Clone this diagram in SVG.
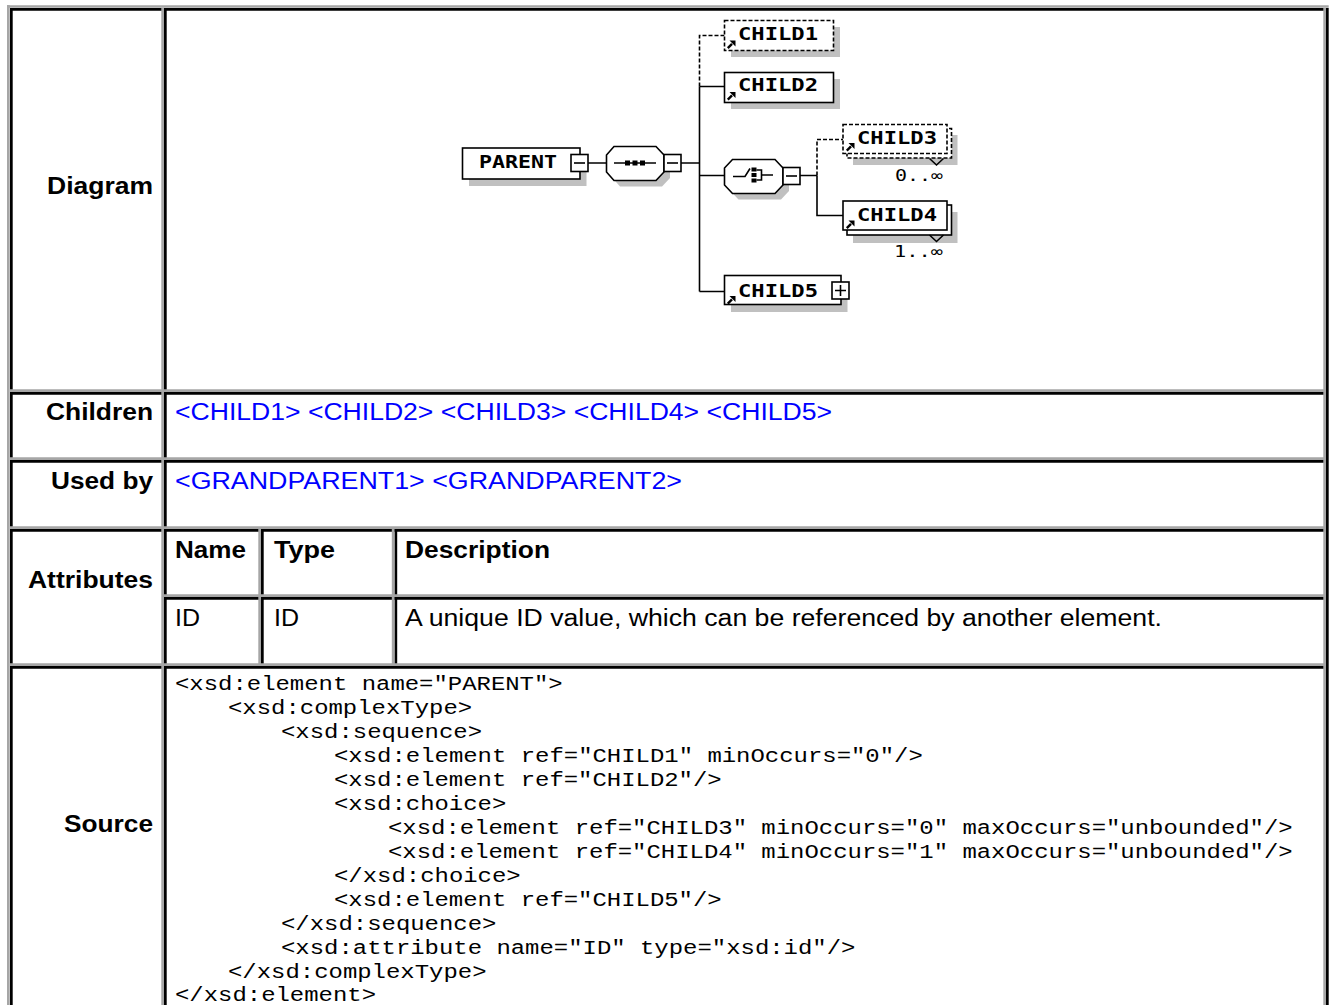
<svg xmlns="http://www.w3.org/2000/svg" width="1333" height="1005" viewBox="0 0 1333 1005">
<style>
.bk{stroke:#000;stroke-width:2.7;fill:none}
.gr{stroke:#a6a6a6;stroke-width:2.7;fill:none}
.lbl{font-family:"Liberation Sans",Arial,sans-serif;font-weight:bold;font-size:23px;fill:#000}
.txt{font-family:"Liberation Sans",Arial,sans-serif;font-size:23px;fill:#000}
.lnk{font-family:"Liberation Sans",Arial,sans-serif;font-size:23px;fill:#0000ff}
.src{font-family:"Liberation Mono","Courier New",monospace;font-size:19.5px;fill:#000}
.box{fill:#fff;stroke:#000;stroke-width:1.6}
.dbox{fill:#fff;stroke:#000;stroke-width:1.6;stroke-dasharray:4 2}
.sh{fill:#c0c0c0;stroke:none}
.nm{font-family:"DejaVu Sans Mono",monospace;font-weight:bold;font-size:17.5px;fill:#000}
.occ{font-family:"DejaVu Sans Mono",monospace;font-size:16px;fill:#000}
.ln{stroke:#000;stroke-width:1.6;fill:none}
.dl{stroke:#000;stroke-width:1.6;fill:none;stroke-dasharray:4 2}
</style>
<defs>
<g id="arr"><path d="M0.8,7.6 L5,3.4" stroke="#000" stroke-width="2.4"/><polygon points="2.5,0 8.5,0 8.5,6" fill="#000"/></g>
</defs>
<rect x="0" y="0" width="1333" height="1005" fill="#fff"/>
<g id="table">
<path class="gr" d="M7,6.5 H1328.7 M8.35,5 V1005"/>
<path class="bk" d="M1327.35,8 V1005"/>
<path class="bk" d="M10,9.35 H1326 M10,393.35 H1326 M10,461.35 H1326 M10,530.35 H1326 M164,598.35 H1326 M10,667.35 H1326 M11.35,8 V1005 M165.35,8 V1005 M262.35,529 V666 M395.85,529 V666"/>
<path class="gr" d="M10,390.65 H1326 M10,458.65 H1326 M10,527.65 H1326 M164,595.65 H1326 M10,664.65 H1326 M162.65,8 V1005 M1324.65,8 V1005 M259.65,529 V666 M393.15,529 V666"/>
</g>
<g id="labels">
<text class="lbl" x="153" y="193.5" text-anchor="end" textLength="106" lengthAdjust="spacingAndGlyphs">Diagram</text>
<text class="lbl" x="153" y="419.5" text-anchor="end" textLength="107" lengthAdjust="spacingAndGlyphs">Children</text>
<text class="lbl" x="153" y="488.5" text-anchor="end" textLength="102" lengthAdjust="spacingAndGlyphs">Used by</text>
<text class="lbl" x="153" y="588" text-anchor="end" textLength="125" lengthAdjust="spacingAndGlyphs">Attributes</text>
<text class="lbl" x="153" y="831.5" text-anchor="end" textLength="89" lengthAdjust="spacingAndGlyphs">Source</text>
</g>
<g id="children-links">
<text class="lnk" x="175" y="419.5" textLength="657" lengthAdjust="spacingAndGlyphs">&lt;CHILD1&gt; &lt;CHILD2&gt; &lt;CHILD3&gt; &lt;CHILD4&gt; &lt;CHILD5&gt;</text>
</g>
<g id="usedby-links">
<text class="lnk" x="175" y="488.5" textLength="507" lengthAdjust="spacingAndGlyphs">&lt;GRANDPARENT1&gt; &lt;GRANDPARENT2&gt;</text>
</g>
<g id="attributes">
<text class="lbl" x="175" y="557.5" textLength="71" lengthAdjust="spacingAndGlyphs">Name</text>
<text class="lbl" x="274" y="557.5" textLength="61" lengthAdjust="spacingAndGlyphs">Type</text>
<text class="lbl" x="405" y="557.5" textLength="145" lengthAdjust="spacingAndGlyphs">Description</text>
<text class="txt" x="175" y="625.5" textLength="25" lengthAdjust="spacingAndGlyphs">ID</text>
<text class="txt" x="274" y="625.5" textLength="25" lengthAdjust="spacingAndGlyphs">ID</text>
<text class="txt" x="405" y="625.5" textLength="757" lengthAdjust="spacingAndGlyphs">A unique ID value, which can be referenced by another element.</text>
</g>
<g id="source" xml:space="preserve">
<text class="src" x="175" y="689.5" textLength="387.7" lengthAdjust="spacingAndGlyphs">&lt;xsd:element name="PARENT"&gt;</text>
<text class="src" x="228" y="713.5" textLength="244.1" lengthAdjust="spacingAndGlyphs">&lt;xsd:complexType&gt;</text>
<text class="src" x="281" y="737.5" textLength="201" lengthAdjust="spacingAndGlyphs">&lt;xsd:sequence&gt;</text>
<text class="src" x="334" y="761.5" textLength="588.8" lengthAdjust="spacingAndGlyphs">&lt;xsd:element ref="CHILD1" minOccurs="0"/&gt;</text>
<text class="src" x="334" y="785.5" textLength="387.7" lengthAdjust="spacingAndGlyphs">&lt;xsd:element ref="CHILD2"/&gt;</text>
<text class="src" x="334" y="809.5" textLength="172.3" lengthAdjust="spacingAndGlyphs">&lt;xsd:choice&gt;</text>
<text class="src" x="388" y="833.5" textLength="904.7" lengthAdjust="spacingAndGlyphs">&lt;xsd:element ref="CHILD3" minOccurs="0" maxOccurs="unbounded"/&gt;</text>
<text class="src" x="388" y="857.5" textLength="904.7" lengthAdjust="spacingAndGlyphs">&lt;xsd:element ref="CHILD4" minOccurs="1" maxOccurs="unbounded"/&gt;</text>
<text class="src" x="334" y="881.5" textLength="186.7" lengthAdjust="spacingAndGlyphs">&lt;/xsd:choice&gt;</text>
<text class="src" x="334" y="905.5" textLength="387.7" lengthAdjust="spacingAndGlyphs">&lt;xsd:element ref="CHILD5"/&gt;</text>
<text class="src" x="281" y="929.5" textLength="215.4" lengthAdjust="spacingAndGlyphs">&lt;/xsd:sequence&gt;</text>
<text class="src" x="281" y="953.5" textLength="574.4" lengthAdjust="spacingAndGlyphs">&lt;xsd:attribute name="ID" type="xsd:id"/&gt;</text>
<text class="src" x="228" y="977.5" textLength="258.5" lengthAdjust="spacingAndGlyphs">&lt;/xsd:complexType&gt;</text>
<text class="src" x="175" y="1001" textLength="201" lengthAdjust="spacingAndGlyphs">&lt;/xsd:element&gt;</text>
</g>
<g id="connectors">
<path class="ln" d="M588,163 H606.5 M681,163 H699.5 M699.5,86.5 V291.5 M699.5,86.5 H724.5 M699.5,175.5 H724.5 M699.5,291.5 H724.5 M800,175.5 H817 M817,175.5 V215.5 H843"/>
<path class="dl" d="M699.5,86.5 V35.5 H724.5 M817,175.5 V139.5 H843"/>
</g>
<g id="PARENT">
<rect class="sh" x="469" y="155" width="117.5" height="31"/>
<rect class="box" x="462.5" y="148" width="117.5" height="31"/>
<text class="nm" x="479" y="167.7" textLength="78" lengthAdjust="spacingAndGlyphs">PARENT</text>
<rect class="box" x="571" y="154.5" width="17" height="17"/>
<path class="ln" d="M574,163 H585"/>
</g>
<g id="sequence">
<polygon class="sh" points="620,152.5 662,152.5 670,161 670,178 662,186.5 620,186.5 612.5,178 612.5,161"/>
<polygon class="box" points="614,146.5 656,146.5 664,155 664,172 656,180.5 614,180.5 606.5,172 606.5,155"/>
<path class="ln" d="M614,163 H656"/>
<rect x="625" y="160.5" width="5" height="5" fill="#000"/>
<rect x="632.5" y="160.5" width="5" height="5" fill="#000"/>
<rect x="640" y="160.5" width="5" height="5" fill="#000"/>
<rect class="box" x="664" y="154.5" width="17" height="17"/>
<path class="ln" d="M667,163 H678"/>
</g>
<g id="CHILD1">
<rect class="sh" x="731" y="27" width="109" height="30"/>
<rect class="dbox" x="724.5" y="20.5" width="109" height="30"/>
<use href="#arr" x="727" y="40.5"/>
<text class="nm" x="738" y="40" textLength="80" lengthAdjust="spacingAndGlyphs">CHILD1</text>
</g>
<g id="CHILD2">
<rect class="sh" x="731" y="79" width="109" height="30"/>
<rect class="box" x="724.5" y="72.5" width="109" height="30"/>
<use href="#arr" x="727" y="92"/>
<text class="nm" x="738" y="91" textLength="80" lengthAdjust="spacingAndGlyphs">CHILD2</text>
</g>
<g id="choice">
<polygon class="sh" points="738.5,165.5 781,165.5 789,174 789,191 781,199.5 738.5,199.5 730.5,191 730.5,174"/>
<polygon class="box" points="732.5,159.5 775,159.5 783,168 783,185 775,193.5 732.5,193.5 724.5,185 724.5,168"/>
<path class="ln" d="M733,176.5 H745 L750,168.5 M756.5,170 H761.5 V180 H756.5 M761.5,175 H773"/>
<rect x="751.5" y="167.5" width="5" height="4" fill="#000"/>
<rect x="751.5" y="173" width="5" height="4" fill="#000"/>
<rect x="751.5" y="178.5" width="5" height="4" fill="#000"/>
<rect class="box" x="783" y="167.5" width="17" height="17"/>
<path class="ln" d="M786,176 H797"/>
</g>
<g id="CHILD3">
<rect class="sh" x="853" y="135" width="104.5" height="30"/>
<rect class="dbox" x="847" y="128.5" width="104.5" height="29.5"/>
<rect class="dbox" x="843" y="124.5" width="104" height="29"/>
<use href="#arr" x="846" y="143"/>
<text class="nm" x="857" y="144" textLength="80" lengthAdjust="spacingAndGlyphs">CHILD3</text>
<polyline class="ln" points="929.5,158.5 936.5,165 943.5,158.5"/>
<text class="occ" x="895" y="181" textLength="48" lengthAdjust="spacingAndGlyphs">0..∞</text>
</g>
<g id="CHILD4">
<rect class="sh" x="853" y="212" width="104.5" height="31"/>
<rect class="box" x="847" y="205" width="104.5" height="30"/>
<rect class="box" x="843" y="201" width="104" height="29"/>
<use href="#arr" x="846" y="220.5"/>
<text class="nm" x="857" y="221" textLength="80" lengthAdjust="spacingAndGlyphs">CHILD4</text>
<polyline class="ln" points="929.5,235 936.5,241.5 943.5,235"/>
<text class="occ" x="894" y="257" textLength="49" lengthAdjust="spacingAndGlyphs">1..∞</text>
</g>
<g id="CHILD5">
<rect class="sh" x="731" y="282.5" width="116.5" height="29.5"/>
<rect class="box" x="724.5" y="275.5" width="116.5" height="29"/>
<use href="#arr" x="727" y="296"/>
<text class="nm" x="738" y="296.5" textLength="80" lengthAdjust="spacingAndGlyphs">CHILD5</text>
<rect class="box" x="832" y="282" width="17" height="17"/>
<path class="ln" d="M835,290.5 H846 M840.5,285 V296"/>
</g>
</svg>
